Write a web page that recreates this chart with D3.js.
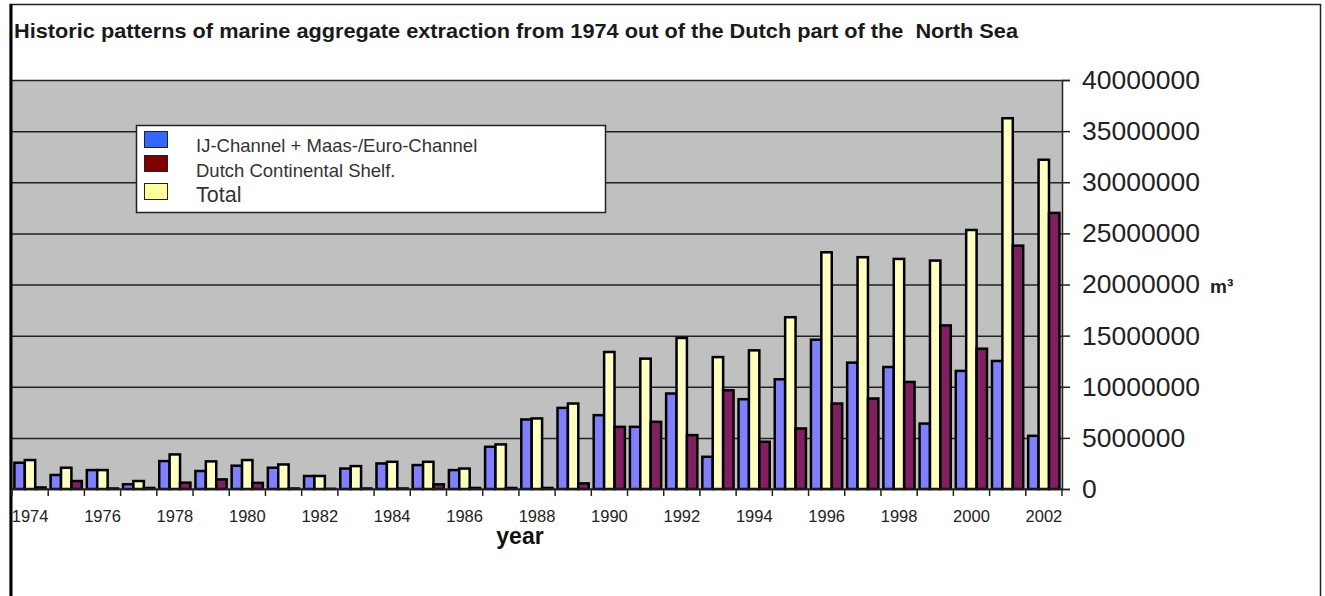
<!DOCTYPE html>
<html>
<head>
<meta charset="utf-8">
<script src="https://cdn.jsdelivr.net/npm/d3@7"></script>
<style>
  body { margin: 0; background: #fff; }
  svg { display: block; font-family: "Liberation Sans", Arial, sans-serif; }
</style>
</head>
<body>
<div id="chart"></div>
<script>
// Data (m3 per year)
const years = [1974, 1975, 1976, 1977, 1978, 1979, 1980, 1981, 1982, 1983, 1984, 1985, 1986, 1987, 1988,
               1989, 1990, 1991, 1992, 1993, 1994, 1995, 1996, 1997, 1998, 1999, 2000, 2001, 2002];
const channel = [2570000, 1370000, 1850000, 460000, 2730000, 1760000, 2280000, 2080000, 1270000, 2000000,
                 2500000, 2340000, 1850000, 4130000, 6800000, 7930000, 7220000, 6080000, 9340000, 3150000,
                 8780000, 10730000, 14600000, 12360000, 11930000, 6400000, 11550000, 12520000, 5200000];
const shelf = [150000, 780000, 50000, 100000, 620000, 940000, 600000, 50000, 20000, 50000,
               50000, 460000, 100000, 100000, 100000, 550000, 6080000, 6570000, 5270000, 9660000,
               4620000, 5920000, 8360000, 8850000, 10470000, 16000000, 13720000, 23800000, 27000000];
const total = [2830000, 2080000, 1850000, 780000, 3380000, 2700000, 2830000, 2400000, 1270000, 2240000,
               2660000, 2660000, 2000000, 4360000, 6900000, 8360000, 13400000, 12750000, 14770000, 12900000,
               13560000, 16800000, 23150000, 22670000, 22500000, 22340000, 25330000, 36260000, 32200000];
const yTicks = [0, 5000000, 10000000, 15000000, 20000000, 25000000, 30000000, 35000000, 40000000];

const seriesNames = ["IJ-Channel + Maas-/Euro-Channel", "Dutch Continental Shelf.", "Total"];
const barColors = {channel: "#8080ff", total: "#ffffc0", shelf: "#802060"};
const legendColors = ["#3366ff", "#800000", "#ffff99"];

const W = 1325, H = 596;
const plot = {left: 12, right: 1062, top: 80, bottom: 489};

const svg = d3.select("#chart").append("svg")
    .attr("width", W)
    .attr("height", H);

// outer frame
svg.append("rect")
    .attr("x", 10.5).attr("y", 4.5)
    .attr("width", 1310).attr("height", 620)
    .attr("fill", "#fff")
    .attr("stroke", "#222")
    .attr("stroke-width", 1.5);

// title (keeps the double space before "North")
svg.append("text")
    .attr("x", 14).attr("y", 38)
    .attr("font-size", 20.5)
    .attr("font-weight", "bold")
    .attr("fill", "#1a1a1a")
    .attr("textLength", 1004)
    .attr("lengthAdjust", "spacingAndGlyphs")
    .style("white-space", "pre")
    .text("Historic patterns of marine aggregate extraction from 1974 out of the Dutch part of the  North Sea");

// plot background
svg.append("rect")
    .attr("x", plot.left).attr("y", plot.top)
    .attr("width", plot.right - plot.left).attr("height", plot.bottom - plot.top)
    .attr("fill", "#c0c0c0");

const x = d3.scaleBand()
    .domain(years)
    .range([plot.left, plot.right])
    .padding(0);

const keys = ["channel", "total", "shelf"];
const x1 = d3.scaleBand()
    .domain(keys)
    .range([2.4, x.bandwidth() - 2.6])
    .padding(0);

const y = d3.scaleLinear()
    .domain([0, 40000000])
    .range([plot.bottom, plot.top]);

// gridlines
svg.append("g")
    .attr("transform", `translate(${plot.right},0)`)
    .call(d3.axisLeft(y).tickValues(yTicks).tickSize(plot.right - plot.left).tickFormat(""))
    .call(g => g.select(".domain").remove())
    .call(g => g.selectAll("line").attr("stroke", "#222").attr("stroke-width", 1.5));

// bars
const rows = years.map((yr, i) => ({year: yr, channel: channel[i], total: total[i], shelf: shelf[i]}));
const groups = svg.append("g").selectAll("g")
    .data(rows)
    .enter().append("g")
    .attr("transform", d => `translate(${x(d.year)},0)`);

groups.selectAll("rect")
    .data(d => keys.map(k => ({key: k, value: d[k]})))
    .enter().append("rect")
    .attr("x", d => x1(d.key))
    .attr("y", d => y(d.value))
    .attr("width", x1.bandwidth())
    .attr("height", d => y(0) - y(d.value))
    .attr("fill", d => barColors[d.key])
    .attr("stroke", "#000")
    .attr("stroke-width", 2.5);

// left edge of plot
svg.append("line")
    .attr("x1", 11).attr("x2", 11)
    .attr("y1", 4).attr("y2", H)
    .attr("stroke", "#000")
    .attr("stroke-width", 3);

// x axis
const xAxis = svg.append("g")
    .attr("transform", `translate(0,${plot.bottom})`);
xAxis.append("line")
    .attr("x1", plot.left).attr("x2", plot.right)
    .attr("stroke", "#222").attr("stroke-width", 1.5);
xAxis.selectAll(".xtick")
    .data(years.concat([2003]))
    .enter().append("line")
    .attr("x1", d => d === 2003 ? plot.right : x(d))
    .attr("x2", d => d === 2003 ? plot.right : x(d))
    .attr("y1", 0).attr("y2", 7)
    .attr("stroke", "#222").attr("stroke-width", 1.5);
xAxis.selectAll(".xlabel")
    .data(years.filter(d => d % 2 === 0))
    .enter().append("text")
    .attr("x", d => x(d) + x.bandwidth() / 2)
    .attr("y", 33)
    .attr("text-anchor", "middle")
    .attr("font-size", 16.5)
    .attr("fill", "#222")
    .text(d => d);

svg.append("text")
    .attr("x", 520).attr("y", 544)
    .attr("text-anchor", "middle")
    .attr("font-size", 23)
    .attr("font-weight", "bold")
    .attr("fill", "#111")
    .text("year");

// y axis on the right
svg.append("g")
    .attr("transform", `translate(${plot.right},0)`)
    .call(d3.axisRight(y).tickValues(yTicks).tickSize(8).tickPadding(12).tickFormat(d3.format("d")))
    .call(g => g.select(".domain").attr("stroke", "#222").attr("stroke-width", 1.5))
    .call(g => g.selectAll("line").attr("stroke", "#222").attr("stroke-width", 1.5))
    .call(g => g.selectAll("text")
        .attr("font-size", 26.5)
        .attr("font-family", "Liberation Sans, Arial, sans-serif")
        .attr("fill", "#222"));

svg.append("text")
    .attr("x", 1210).attr("y", 293)
    .attr("font-size", 19)
    .attr("font-weight", "bold")
    .attr("fill", "#222")
    .text("m³");

// legend
const legend = svg.append("g");
legend.append("rect")
    .attr("x", 136.5).attr("y", 125.5)
    .attr("width", 469).attr("height", 87)
    .attr("fill", "#fff")
    .attr("stroke", "#222")
    .attr("stroke-width", 1.5);
const swatchY = [131, 155, 183];
const labelY = [152, 177, 202];
const labelSize = [18.5, 18.5, 21.5];
seriesNames.forEach((name, i) => {
    legend.append("rect")
        .attr("x", 144.5).attr("y", swatchY[i] + 0.5)
        .attr("width", 23).attr("height", 16)
        .attr("fill", legendColors[i])
        .attr("stroke", "#222")
        .attr("stroke-width", 1);
    legend.append("text")
        .attr("x", 196).attr("y", labelY[i])
        .attr("font-size", labelSize[i])
        .attr("fill", "#333")
        .text(name);
});
</script>
</body>
</html>
